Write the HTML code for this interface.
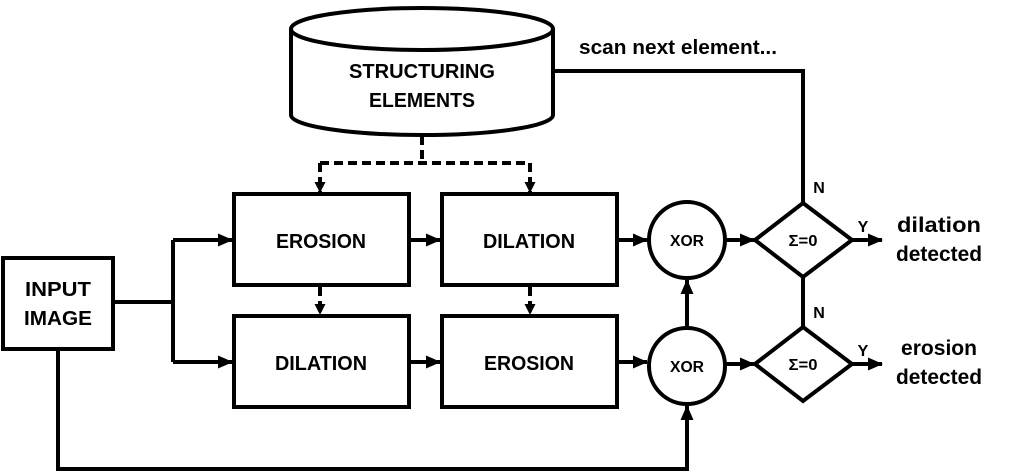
<!DOCTYPE html>
<html><head><meta charset="utf-8"><style>
html,body{margin:0;padding:0;background:#fff;}
svg{display:block;}
text{font-family:"Liberation Sans",sans-serif;font-weight:bold;fill:#000;}
</style></head><body>
<svg width="1027" height="473" viewBox="0 0 1027 473" xmlns="http://www.w3.org/2000/svg">
<defs>
<marker id="a" markerWidth="11" markerHeight="11" refX="10" refY="5.5" orient="auto" markerUnits="userSpaceOnUse"><path d="M0,0 L11,5.5 L0,11 z" fill="#000"/></marker>
<marker id="b" markerWidth="15" markerHeight="15" refX="14" refY="7.5" orient="auto" markerUnits="userSpaceOnUse"><path d="M0,1 L15,7.5 L0,14 z" fill="#000"/></marker>
</defs>
<g fill="none" stroke="#000" stroke-width="4">
<path d="M291,29 L291,115 A131,20 0 0 0 553,115 L553,29" fill="#fff"/>
<ellipse cx="422" cy="29" rx="131" ry="21" fill="#fff"/>
<rect x="3" y="258" width="110" height="91"/>
<rect x="234" y="194" width="175" height="91"/>
<rect x="442" y="194" width="175" height="91"/>
<rect x="234" y="316" width="175" height="91"/>
<rect x="442" y="316" width="175" height="91"/>
<circle cx="687" cy="240" r="38"/>
<circle cx="687" cy="366" r="38"/>
<polygon points="803,203 852,240 803,277 755,240"/>
<polygon points="803,327 852,364 803,401 755,364"/>
<g stroke-dasharray="9,5">
<path d="M422,136 L422,163"/>
<path d="M320,163 L530,163"/>
<path d="M320,163 L320,192" marker-end="url(#a)"/>
<path d="M530,163 L530,192" marker-end="url(#a)"/>
<path d="M320,287 L320,314" marker-end="url(#a)"/>
<path d="M530,287 L530,314" marker-end="url(#a)"/>
</g>
<path d="M113,302 L173,302"/>
<path d="M173,240 L173,362"/>
<path d="M173,240 L232,240" marker-end="url(#b)"/>
<path d="M173,362 L232,362" marker-end="url(#b)"/>
<path d="M409,240 L440,240" marker-end="url(#b)"/>
<path d="M409,362 L440,362" marker-end="url(#b)"/>
<path d="M617,240 L647,240" marker-end="url(#b)"/>
<path d="M617,362 L647,362" marker-end="url(#b)"/>
<path d="M726,240 L754,240" marker-end="url(#b)"/>
<path d="M726,364 L754,364" marker-end="url(#b)"/>
<path d="M687,328 L687,280" marker-end="url(#b)"/>
<path d="M58,349 L58,469 L687,469 L687,406" marker-end="url(#b)"/>
<path d="M852,240 L882,240" marker-end="url(#b)"/>
<path d="M852,364 L882,364" marker-end="url(#b)"/>
<path d="M803,203 L803,71 L553,71"/>
<path d="M803,277 L803,327"/>
</g>
<g font-size="20" text-anchor="middle">
<text x="422" y="78" textLength="146" lengthAdjust="spacingAndGlyphs">STRUCTURING</text>
<text x="422" y="107" textLength="106" lengthAdjust="spacingAndGlyphs">ELEMENTS</text>
<text x="58" y="296" textLength="66" lengthAdjust="spacingAndGlyphs">INPUT</text>
<text x="58" y="325" textLength="68" lengthAdjust="spacingAndGlyphs">IMAGE</text>
<text x="321" y="248" textLength="90" lengthAdjust="spacingAndGlyphs">EROSION</text>
<text x="529" y="248" textLength="92" lengthAdjust="spacingAndGlyphs">DILATION</text>
<text x="321" y="370" textLength="92" lengthAdjust="spacingAndGlyphs">DILATION</text>
<text x="529" y="370" textLength="90" lengthAdjust="spacingAndGlyphs">EROSION</text>
</g>
<g font-size="16" text-anchor="middle">
<text x="687" y="246" textLength="34" lengthAdjust="spacingAndGlyphs">XOR</text>
<text x="687" y="372" textLength="34" lengthAdjust="spacingAndGlyphs">XOR</text>
<text x="803" y="246" textLength="29" lengthAdjust="spacingAndGlyphs">Σ=0</text>
<text x="803" y="370" textLength="29" lengthAdjust="spacingAndGlyphs">Σ=0</text>
<text x="819" y="193">N</text>
<text x="819" y="318">N</text>
<text x="863" y="232">Y</text>
<text x="863" y="356">Y</text>
</g>
<g font-size="21" text-anchor="middle">
<text x="939" y="232" textLength="84" lengthAdjust="spacingAndGlyphs">dilation</text>
<text x="939" y="261" textLength="86" lengthAdjust="spacingAndGlyphs">detected</text>
<text x="939" y="355" textLength="76" lengthAdjust="spacingAndGlyphs">erosion</text>
<text x="939" y="384" textLength="86" lengthAdjust="spacingAndGlyphs">detected</text>
</g>
<text x="579" y="54" font-size="20" textLength="198" lengthAdjust="spacingAndGlyphs">scan next element...</text>
</svg>
</body></html>
